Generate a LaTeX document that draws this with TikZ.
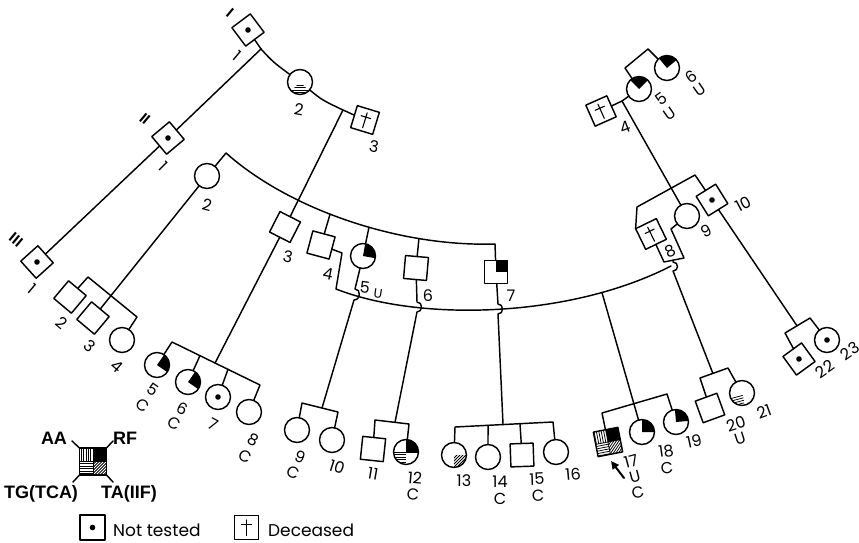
\documentclass[tikz,border=0pt]{standalone}
\usepackage{fontspec}
\setmainfont{Poppins}
\newfontfamily\legendfont{Liberation Sans}
\usetikzlibrary{arrows.meta}

\tikzset{
  ln/.style={line width=1.45pt},
  sym/.style={draw, line width=1.45pt, inner sep=0pt, outer sep=0pt},
  sq/.style={sym, rectangle, minimum size=23pt},
  ci/.style={sym, circle, minimum size=25pt},
  lab/.style={inner sep=0pt, font=\fontsize{16}{16}\selectfont},
  rom/.style={inner sep=0pt, font=\legendfont\bfseries\fontsize{15}{15}\selectfont},
  leg/.style={inner sep=0pt, font=\legendfont\bfseries\fontsize{18}{18}\selectfont},
  legtext/.style={inner sep=0pt, anchor=base west, font=\fontsize{17}{17}\selectfont},
  stripe/.style={line width=0.75pt},
}

% symbol fillings, drawn in the (rotated) frame of a node
\newcommand\pdDot[1]{\fill (#1.center) circle[radius=2.8];}
\newcommand\pdCross[2]{\begin{scope}[shift={(#1.center)},rotate=#2]
  \draw[line width=1.1pt] (0,-7.5) -- (0,8) (-5,-3) -- (5,-3);\end{scope}}
% circles: RF = upper right black, TG = lower left horizontal, TA = lower right oblique
\newcommand\pdRFc[3]{\begin{scope}[shift={(#1.center)},rotate=#2]
  \fill (0,0) -- (0,-#3) arc[start angle=-90,end angle=0,radius=#3] -- cycle;\end{scope}}
\newcommand\pdTGc[3]{\begin{scope}[shift={(#1.center)},rotate=#2]
  \clip (0,0) -- (-#3,0) arc[start angle=180,end angle=90,radius=#3] -- cycle;
  \foreach \k in {2.5,5,7.5,10,12.5} \draw[stripe] (-#3,\k) -- (0,\k);\end{scope}}
\newcommand\pdTAc[3]{\begin{scope}[shift={(#1.center)},rotate=#2]
  \clip (0,0) -- (0,#3) arc[start angle=90,end angle=0,radius=#3] -- cycle;
  \foreach \k in {3,6,...,24} \draw[stripe] (\k+4,-4) -- (\k-26,26);\end{scope}}
% squares: all four quadrants (AA, RF, TG, TA)
\newcommand\pdFull[3]{\begin{scope}[shift={(#1.center)},rotate=#2]
  \fill (0,-#3) rectangle (#3,0);
  \begin{scope}\clip (-#3,-#3) rectangle (0,0);
    \foreach \k in {2.2,4.6,...,13} \draw[stripe] (-\k,-#3) -- (-\k,0);\end{scope}
  \begin{scope}\clip (-#3,0) rectangle (0,#3);
    \foreach \k in {2.2,4.6,...,13} \draw[stripe] (-#3,\k) -- (0,\k);\end{scope}
  \begin{scope}\clip (0,0) rectangle (#3,#3);
    \foreach \k in {3,6,...,27} \draw[stripe] (\k+4,-4) -- (\k-26,26);\end{scope}
  \draw[stripe] (-#3,0) -- (#3,0) (0,-#3) -- (0,#3);
  \end{scope}}

\begin{document}
\begin{tikzpicture}[x=1pt, y=-1pt, line join=round, line cap=round]
\fill[white] (0,0) rectangle (859,543);
\useasboundingbox (0,0) rectangle (859,543);

% ---------------- generation I
\node[sq, rotate=37]  (i1) at (248,30) {};
\node[ci]             (i2) at (300,82) {};
\node[sq, rotate=-17] (i3) at (365,120) {};
\node[sq, rotate=24]  (i4) at (601,111) {};
\node[ci]             (i5) at (639,89) {};
\node[ci]             (i6) at (667,68) {};

% ---------------- generation II
\node[sq, rotate=40]  (ii1) at (168,138) {};
\node[ci]             (ii2) at (207,176) {};
\node[sq, rotate=-27] (ii3) at (285,227) {};
\node[sq, rotate=-15] (ii4) at (321,245) {};
\node[ci]             (ii5) at (363,256) {};
\node[sq, rotate=-5]  (ii6) at (416,268) {};
\node[sq]             (ii7) at (496,272) {};
\node[sq, rotate=26]  (ii8) at (651,234) {};
\node[ci]             (ii9) at (687,216) {};
\node[sq, rotate=32]  (ii10) at (712,200) {};

% ---------------- generation III
\node[sq, rotate=42]  (iii1) at (37,262) {};
\node[sq, rotate=-40] (iii2) at (70,297) {};
\node[sq, rotate=-40] (iii3) at (93,318) {};
\node[ci]             (iii4) at (122,340) {};
\node[ci]             (iii5) at (157,365) {};
\node[ci]             (iii6) at (188,382) {};
\node[ci]             (iii7) at (218,397) {};
\node[ci]             (iii8) at (249,412) {};
\node[ci]             (iii9) at (297,430) {};
\node[ci]             (iii10) at (332,440) {};
\node[sq, rotate=-6]  (iii11) at (373,449) {};
\node[ci]             (iii12) at (406,452) {};
\node[ci]             (iii13) at (454,455) {};
\node[ci]             (iii14) at (488,457) {};
\node[sq, rotate=2]   (iii15) at (522,455) {};
\node[ci]             (iii16) at (556,452) {};
\node[sq, rotate=11, minimum size=25pt] (iii17) at (608,442) {};
\node[ci]             (iii18) at (642,432) {};
\node[ci]             (iii19) at (676,422) {};
\node[sq, rotate=20]  (iii20) at (710,408) {};
\node[ci]             (iii21) at (742,393) {};
\node[sq, rotate=36]  (iii22) at (799,359) {};
\node[ci]             (iii23) at (827,340) {};

% ---------------- fillings
\pdDot{i1} \pdDot{ii1} \pdDot{iii1} \pdDot{ii10} \pdDot{iii22} \pdDot{iii7} \pdDot{iii23}
\pdCross{i3}{-17} \pdCross{i4}{24} \pdCross{ii8}{26}
\pdRFc{i5}{45}{12.5} \pdRFc{i6}{40}{12.5} \pdRFc{ii5}{-10}{12.5}
\pdRFc{iii5}{-35}{12.5} \pdRFc{iii6}{-35}{12.5}
\pdRFc{iii12}{0}{12.5} \pdTGc{iii12}{0}{12.5}
\draw[stripe] (iii12.west) -- (iii12.east) (iii12.center) -- (iii12.north);
\pdRFc{iii18}{0}{12.5} \pdRFc{iii19}{5}{12.5}
\pdTAc{iii13}{0}{12.5} \pdTGc{iii21}{15}{12.5}
\begin{scope}[shift={(i2.center)}]
  \clip (0,0) -- (45:12.5) arc[start angle=45,end angle=135,radius=12.5] -- cycle;
  \foreach \k in {3,5.5,8,10.5} \draw[stripe] (-12,\k) -- (12,\k);
\end{scope}
\begin{scope}[shift={(ii7.center)}]
  \fill (0,-11.5) rectangle (11.5,0);
\end{scope}
\pdFull{iii17}{11}{12.5}

% ---------------- connectors, generation I
\coordinate (m1) at (261,49);
\coordinate (m2) at (343,110);
\draw[ln] (i1) -- (m1) .. controls (273,62) .. (i2);
\draw[ln] (i2) .. controls (322,100) .. (m2) -- (i3);
\coordinate (m45) at (622,101);
\draw[ln] (i4) -- (m45) -- (i5);
\coordinate (b5a) at (625,68);
\coordinate (b5b) at (648,49);
\draw[ln] (i5) -- (b5a) -- (b5b) -- (i6);

% ---------------- sibships of generation III
\coordinate (b2a) at (88,277);
\coordinate (b2b) at (137,317);
\draw[ln] (iii2) -- (b2a) -- (b2b) -- (iii4);

\coordinate (b5l) at (172,342);
\coordinate (b5r) at (260,385);
\draw[ln] (iii5) -- (b5l) -- (b5r)
  coordinate[pos=0.318] (p6) coordinate[pos=0.636] (p7) coordinate[pos=0.489] (s3)
  -- (iii8);
\draw[ln] (p6) -- (iii6);
\draw[ln] (p7) -- (iii7);

\coordinate (b9l) at (302,403);
\coordinate (b9r) at (338,412);
\draw[ln] (iii9) -- (b9l) -- (b9r) coordinate[pos=0.556] (s9) -- (iii10);

\coordinate (b11l) at (375,420);
\coordinate (b11r) at (409,424);
\draw[ln] (iii11) -- (b11l) -- (b11r) coordinate[pos=0.588] (s11) -- (iii12);

\coordinate (b13l) at (455,427);
\coordinate (b13r) at (553,422);
\draw[ln] (iii13) -- (b13l) -- (b13r)
  coordinate[pos=0.337] (p14) coordinate[pos=0.663] (p15) coordinate[pos=0.49] (s13)
  -- (iii16);
\draw[ln] (p14) -- (iii14);
\draw[ln] (p15) -- (iii15);

\coordinate (b17a) at (602,413);
\coordinate (b17b) at (667,394);
\draw[ln] (iii17) -- (b17a) -- (b17b) -- (iii19);

\coordinate (b20a) at (700,378);
\coordinate (b20b) at (728,368);
\draw[ln] (iii20) -- (b20a) -- (b20b) coordinate[pos=0.46] (s20) -- (iii21);

\coordinate (b22a) at (785,333);
\coordinate (b22b) at (810,318);
\draw[ln] (iii22) -- (b22a) -- (b22b) coordinate[pos=0.48] (s22) -- (iii23);

% ---------------- descent lines
\draw[ln] (m1) -- (ii1) -- (iii1);
\draw[ln] (m2) -- (ii3) -- (s3);
\draw[ln] (ii2) -- (iii3);

% upper arc with generation II sibs
\coordinate (c2) at (226,153);
\coordinate (a7) at (495,244);
\draw[ln] (ii2) -- (c2) .. controls (290,210) and (400,247) .. (a7)
  coordinate[pos=0.433] (a4) coordinate[pos=0.57] (a5) coordinate[pos=0.74] (a6);
\draw[ln] (a4) -- (ii4);
\draw[ln] (a5) -- (ii5);
\draw[ln] (a6) -- (ii6);
\draw[ln] (a7) -- (ii7);

% lower arc
\coordinate (k4) at (342,253);
\coordinate (k4b) at (336,289);
\coordinate (e8) at (671,266);
\draw[ln] (ii4) -- (k4) -- (k4b) .. controls (420,322) and (570,318) .. (e8)
  coordinate[pos=0.79] (a17);
\draw[ln] (a17) -- (iii18);

% lines passing over the lower arc
\draw[ln] (ii5) -- (355,289) .. controls (361,289) and (361,300) .. (354,300) -- (s9);
\draw[ln] (ii6) -- (417,302) .. controls (423,302) and (423,312) .. (417,312) -- (s11);
\draw[ln] (ii7) -- (498,304) .. controls (504,304) and (504,314) .. (498,314) -- (s13);

% generation II, right family
\coordinate (b8a) at (637,207);
\coordinate (b8b) at (695,175);
\draw[ln] (ii8.north west) -- (b8a) -- (b8b) -- (ii10);
\draw[ln] (m45) -- (ii9);
\coordinate (u1) at (664,262);
\coordinate (u2) at (684,258);
\coordinate (u3) at (671,229);
\coordinate (u4) at (673,260.2);
\draw[ln] (ii8) -- (u1) -- (u2) -- (u3) -- (ii9);
\draw[ln] (u4) -- (673,262) .. controls (679,262) and (679,271) .. (673,271) -- (s20);
\draw[ln] (ii10) -- (s22);

% proband arrow
\coordinate (arT) at (624,478);
\coordinate (arH) at (611,461);
\draw[line width=2pt, -{Triangle[length=8pt,width=7.5pt]}] (arT) -- (arH);

% ---------------- generation numerals
\node[rom, rotate=-40] (r1) at (230,13) {I};
\node[rom, rotate=-40] (r2) at (145,119) {II};
\node[rom, rotate=-40] (r3) at (16,240) {III};

% ---------------- individual numbers
\node[lab, rotate=-40] (l-i1) at (237,56) {1};
\node[lab, rotate=-10] (l-i2) at (299,109) {2};
\node[lab, rotate=-10] (l-i3) at (374,147) {3};
\node[lab, rotate=20] (l-i4) at (625,127) {4};
\node[lab, rotate=35] (l-i5) at (661,99) {5};
\node[lab, rotate=35] (l-i5u) at (670,114) {U};
\node[lab, rotate=35] (l-i6) at (691,77) {6};
\node[lab, rotate=35] (l-i6u) at (700,90) {U};

\node[lab, rotate=-45] (l-ii1) at (163,166) {1};
\node[lab, rotate=-15] (l-ii2) at (207,205) {2};
\node[lab, rotate=-12] (l-ii3) at (288,257) {3};
\node[lab, rotate=-12] (l-ii4) at (328,274) {4};
\node[lab, rotate=-8] (l-ii5) at (365,287) {5};
\node[lab, rotate=-8, font=\fontsize{13}{13}\selectfont] (l-ii5u) at (378,294) {U};
\node[lab] (l-ii6) at (428,296) {6};
\node[lab] (l-ii7) at (511,296) {7};
\node[lab, rotate=25] (l-ii8) at (670,251) {8};
\node[lab, rotate=25] (l-ii9) at (706,231) {9};
\node[lab, rotate=28] (l-ii10) at (743,204) {10};

\node[lab, rotate=-40] (l-iii1) at (32,289) {1};
\node[lab, rotate=-40] (l-iii2) at (62,323) {2};
\node[lab, rotate=-40] (l-iii3) at (90,346) {3};
\node[lab, rotate=-40] (l-iii4) at (117,366) {4};
\node[lab, rotate=-35] (l-iii5) at (153,390) {5};
\node[lab, rotate=-35] (l-iii5c) at (143,405) {C};
\node[lab, rotate=-28] (l-iii6) at (182,409) {6};
\node[lab, rotate=-28] (l-iii6c) at (174,423) {C};
\node[lab, rotate=-28] (l-iii7) at (213,424) {7};
\node[lab, rotate=-28] (l-iii8) at (253,440) {8};
\node[lab, rotate=-28] (l-iii8c) at (245,456) {C};
\node[lab, rotate=-22] (l-iii9) at (300,457) {9};
\node[lab, rotate=-22] (l-iii9c) at (293,473) {C};
\node[lab, rotate=-18] (l-iii10) at (337,467) {10};
\node[lab, rotate=-10] (l-iii11) at (373,474) {11};
\node[lab, rotate=-5] (l-iii12) at (415,478) {12};
\node[lab, rotate=-5] (l-iii12c) at (413,494) {C};
\node[lab] (l-iii13) at (464,481) {13};
\node[lab] (l-iii14) at (500,482) {14};
\node[lab] (l-iii14c) at (500,499) {C};
\node[lab, rotate=2] (l-iii15) at (537,479) {15};
\node[lab, rotate=2] (l-iii15c) at (538,496) {C};
\node[lab, rotate=5] (l-iii16) at (573,474) {16};
\node[lab, rotate=15] (l-iii17) at (631,461) {17};
\node[lab, rotate=15] (l-iii17u) at (635,477) {U};
\node[lab, rotate=15] (l-iii17c) at (638,492) {C};
\node[lab, rotate=8] (l-iii18) at (666,451) {18};
\node[lab, rotate=8] (l-iii18c) at (667,468) {C};
\node[lab, rotate=12] (l-iii19) at (694,441) {19};
\node[lab, rotate=18] (l-iii20) at (736,424) {20};
\node[lab, rotate=18] (l-iii20u) at (740,439) {U};
\node[lab, rotate=20] (l-iii21) at (764,412) {21};
\node[lab, rotate=35] (l-iii22) at (825,369) {22};
\node[lab, rotate=35] (l-iii23) at (850,351) {23};

% ---------------- legend
\node[sq, minimum size=27pt] (lg) at (93,461.5) {};
\begin{scope}[shift={(lg.center)}]
  \fill (0,-13.5) rectangle (13.5,0);
  \begin{scope}\clip (-13.5,-13.5) rectangle (0,0);
    \foreach \k in {2.2,4.6,...,13} \draw[stripe] (-\k,-13.5) -- (-\k,0);\end{scope}
  \begin{scope}\clip (-13.5,0) rectangle (0,13.5);
    \foreach \k in {2.2,4.6,...,13} \draw[stripe] (-13.5,\k) -- (0,\k);\end{scope}
  \begin{scope}\clip (0,0) rectangle (13.5,13.5);
    \foreach \k in {3,6,...,27} \draw[stripe] (\k+4,-4) -- (\k-26,26);\end{scope}
  \draw[stripe] (-13.5,0) -- (13.5,0) (0,-13.5) -- (0,13.5);
\end{scope}
\coordinate (tkA) at (72,441);
\coordinate (tkR) at (113,441);
\coordinate (tkG) at (73,482);
\coordinate (tkT) at (113,482);
\draw[ln] (lg.north west) -- (tkA);
\draw[ln] (lg.north east) -- (tkR);
\draw[ln] (lg.south west) -- (tkG);
\draw[ln] (lg.south east) -- (tkT);
\node[leg] (lAA) at (54,438) {AA};
\node[leg] (lRF) at (125,438) {RF};
\node[leg] (lTG) at (41,494) {TG(TCA)};
\node[leg] (lTA) at (129,494) {TA(IIF)};

\node[sq, minimum size=25pt] (lnt) at (92.5,527.5) {};
\pdDot{lnt}
\node[legtext] (tnt) at (113,536) {Not tested};
\node[sq, minimum size=24pt] (ldc) at (246.5,527.5) {};
\pdCross{ldc}{0}
\node[legtext] (tdc) at (268,536) {Deceased};
\end{tikzpicture}
\end{document}
